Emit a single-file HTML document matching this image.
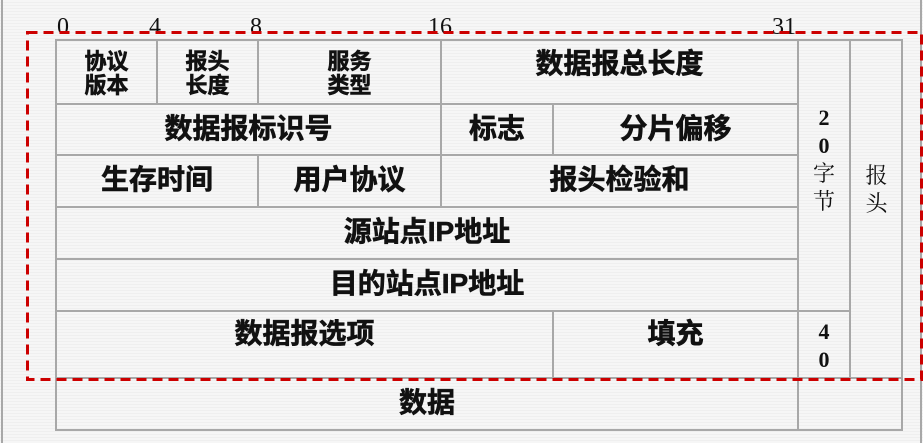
<!DOCTYPE html>
<html><head><meta charset="utf-8"><style>
html,body{margin:0;padding:0}
body{width:923px;height:443px;position:relative;overflow:hidden;background:repeating-linear-gradient(#f6f6f6 0 2px,#efefef 2px 3px);font-family:"Liberation Sans","Noto Sans CJK SC",sans-serif}
.c{position:absolute;box-sizing:border-box;display:flex;align-items:center;justify-content:center;text-align:center;font-weight:bold;font-size:28px;color:#111;line-height:1;-webkit-text-stroke:0.6px #111;white-space:nowrap}
.l{position:absolute;background:#a8a8a8}
.n{position:absolute;font-family:"Liberation Serif",serif;font-size:24px;color:#111;top:14px}
.s{font-size:22px;line-height:24px}
.v{font-family:"Liberation Serif","Noto Serif CJK SC",serif;font-weight:normal;font-size:22px;line-height:28px;flex-direction:column;-webkit-text-stroke:0}
</style></head><body>
<div class="l" style="left:1px;top:0;width:2px;height:443px"></div>
<div class="l" style="left:920px;top:0;width:2px;height:443px"></div>
<div style="position:absolute;left:55px;top:39px;width:848px;height:392px;box-sizing:border-box;border:2px solid #a8a8a8"></div>
<div class="l" style="left:56px;top:103px;width:742px;height:2px"></div>
<div class="l" style="left:56px;top:154px;width:742px;height:2px"></div>
<div class="l" style="left:56px;top:206px;width:742px;height:2px"></div>
<div class="l" style="left:56px;top:258px;width:742px;height:2px"></div>
<div class="l" style="left:56px;top:310px;width:794px;height:2px"></div>
<div class="l" style="left:56px;top:377px;width:847px;height:2px"></div>
<div class="l" style="left:156px;top:40px;width:2px;height:64px"></div>
<div class="l" style="left:257px;top:40px;width:2px;height:64px"></div>
<div class="l" style="left:257px;top:155px;width:2px;height:52px"></div>
<div class="l" style="left:440px;top:40px;width:2px;height:64px"></div>
<div class="l" style="left:440px;top:104px;width:2px;height:103px"></div>
<div class="l" style="left:552px;top:104px;width:2px;height:52px"></div>
<div class="l" style="left:552px;top:311px;width:2px;height:67px"></div>
<div class="l" style="left:797px;top:40px;width:2px;height:391px"></div>
<div class="l" style="left:849px;top:40px;width:2px;height:338px"></div>
<div class="n" style="left:57px">0</div>
<div class="n" style="left:149px">4</div>
<div class="n" style="left:250px">8</div>
<div class="n" style="left:428px">16</div>
<div class="n" style="left:772px">31</div>
<svg style="position:absolute;left:0;top:0" width="923" height="443"><rect x="27.5" y="32.5" width="894" height="347" fill="none" stroke="#cc0000" stroke-width="3" stroke-dasharray="10,6"/></svg>
<div class="c s" style="left:56px;top:44px;width:101px;height:60px">协议<br>版本</div>
<div class="c s" style="left:157px;top:44px;width:101px;height:60px">报头<br>长度</div>
<div class="c s" style="left:258px;top:44px;width:183px;height:60px">服务<br>类型</div>
<div class="c" style="left:441px;top:48px;width:357px;height:32px">数据报总长度</div>
<div class="c" style="left:56px;top:104px;width:385px;height:50px">数据报标识号</div>
<div class="c" style="left:441px;top:104px;width:112px;height:50px">标志</div>
<div class="c" style="left:553px;top:104px;width:245px;height:50px">分片偏移</div>
<div class="c" style="left:56px;top:155px;width:202px;height:50px">生存时间</div>
<div class="c" style="left:258px;top:155px;width:183px;height:50px">用户协议</div>
<div class="c" style="left:441px;top:155px;width:357px;height:50px">报头检验和</div>
<div class="c" style="left:56px;top:207px;width:742px;height:50px">源站点IP地址</div>
<div class="c" style="left:56px;top:259px;width:742px;height:50px">目的站点IP地址</div>
<div class="c" style="left:56px;top:318px;width:497px;height:32px">数据报选项</div>
<div class="c" style="left:553px;top:318px;width:245px;height:32px">填充</div>
<div class="c" style="left:56px;top:387px;width:742px;height:32px">数据</div>
<div class="c v" style="left:798px;top:100px;width:52px;height:120px"><b style="font-family:'Liberation Serif',serif">2</b><b style="font-family:'Liberation Serif',serif">0</b><span>字</span><span>节</span></div>
<div class="c v" style="left:798px;top:316px;width:52px;height:60px"><b style="font-family:'Liberation Serif',serif">4</b><b style="font-family:'Liberation Serif',serif">0</b></div>
<div class="c v" style="left:850px;top:150px;width:53px;height:80px"><span>报</span><span>头</span></div>
</body></html>
